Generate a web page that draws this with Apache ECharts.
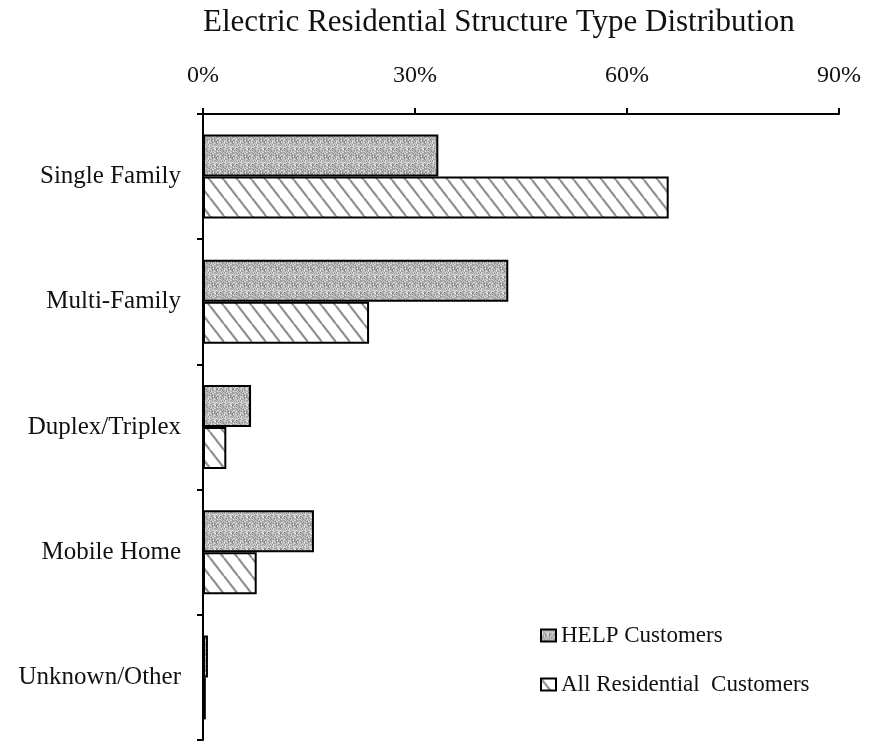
<!DOCTYPE html>
<html>
<head>
<meta charset="utf-8">
<title>Electric Residential Structure Type Distribution</title>
<script src="https://cdn.jsdelivr.net/npm/echarts@6/dist/echarts.min.js"></script>
<style>
  html, body { margin: 0; padding: 0; background: #fff; }
  #chart { width: 870px; height: 742px; }
</style>
</head>
<body>
<div id="chart"></div>
<script>
// Structure types, top to bottom
const categories = ['Single Family', 'Multi-Family', 'Duplex/Triplex', 'Mobile Home', 'Unknown/Other'];
// Share of customers by structure type (%)
const helpShare = [33.3, 43.2, 6.8, 15.7, 0.7];
const allResShare = [65.9, 23.5, 3.3, 7.6, 0.4];
// Percentage axis
const axisMin = 0;
const axisMax = 90;
const tickStep = 30;
const seriesNames = ['HELP Customers', 'All Residential  Customers'];

const SERIF = "'Liberation Serif', 'Times New Roman', serif";

// Grainy gray fill (fixed dither tile)
function stippleTile() {
  const size = 16;
  const c = document.createElement('canvas');
  c.width = size; c.height = size;
  const ctx = c.getContext('2d');
  const shades = ['#8a8a8a', '#a2a2a2', '#b4b4b4', '#c6c6c6', '#dadada'];
  for (let y = 0; y < size; y++) {
    for (let x = 0; x < size; x++) {
      const h = ((x * 7 + y * 13 + ((x * y) % 5) * 3) ^ (x * 3 + y)) % shades.length;
      ctx.fillStyle = shades[(h + shades.length) % shades.length];
      ctx.fillRect(x, y, 1, 1);
    }
  }
  return c;
}

// Diagonal hatch (top-left to bottom-right) on white
function hatchTile() {
  const w = 14, h = 18;
  const c = document.createElement('canvas');
  c.width = w; c.height = h;
  const ctx = c.getContext('2d');
  ctx.fillStyle = '#ffffff';
  ctx.fillRect(0, 0, w, h);
  ctx.strokeStyle = '#8f8f8f';
  ctx.lineWidth = 2.2;
  for (let k = -1; k <= 1; k++) {
    ctx.beginPath();
    ctx.moveTo(k * w, 0);
    ctx.lineTo(k * w + w, h);
    ctx.stroke();
  }
  return c;
}

const chart = echarts.init(document.getElementById('chart'), null, { renderer: 'canvas' });

chart.setOption({
  backgroundColor: '#ffffff',
  animation: false,
  title: {
    text: 'Electric Residential Structure Type Distribution',
    left: 198,
    top: 2,
    textStyle: { fontFamily: SERIF, fontSize: 31, fontWeight: 'normal', color: '#111' }
  },
  legend: {
    orient: 'vertical',
    left: 535,
    top: 619,
    itemGap: 26,
    itemWidth: 15,
    itemHeight: 12,
    icon: 'rect',
    data: seriesNames,
    textStyle: { fontFamily: SERIF, fontSize: 23, color: '#111' }
  },
  grid: { left: 203, right: 31, top: 114, bottom: 2, containLabel: false },
  xAxis: {
    type: 'value',
    position: 'top',
    min: axisMin,
    max: axisMax,
    interval: tickStep,
    axisLine: { show: true, lineStyle: { color: '#000', width: 2 } },
    axisTick: { show: true, inside: false, length: 6, lineStyle: { color: '#000', width: 2 } },
    splitLine: { show: false },
    axisLabel: {
      margin: 26,
      formatter: '{value}%',
      fontFamily: SERIF,
      fontSize: 24,
      color: '#111'
    }
  },
  yAxis: {
    type: 'category',
    data: categories,
    inverse: true,
    axisLine: { show: true, lineStyle: { color: '#000', width: 2 } },
    axisTick: { show: true, inside: false, length: 6, lineStyle: { color: '#000', width: 2 } },
    axisLabel: { margin: 22, fontFamily: SERIF, fontSize: 25, color: '#111' },
    splitLine: { show: false }
  },
  series: [
    {
      name: seriesNames[0],
      type: 'bar',
      data: helpShare,
      barWidth: 42,
      barGap: '0%',
      itemStyle: {
        color: { image: stippleTile(), repeat: 'repeat' },
        borderColor: '#000',
        borderWidth: 2
      }
    },
    {
      name: seriesNames[1],
      type: 'bar',
      data: allResShare,
      barWidth: 42,
      barGap: '0%',
      itemStyle: {
        color: { image: hatchTile(), repeat: 'repeat' },
        borderColor: '#000',
        borderWidth: 2
      }
    }
  ]
});
</script>
</body>
</html>
